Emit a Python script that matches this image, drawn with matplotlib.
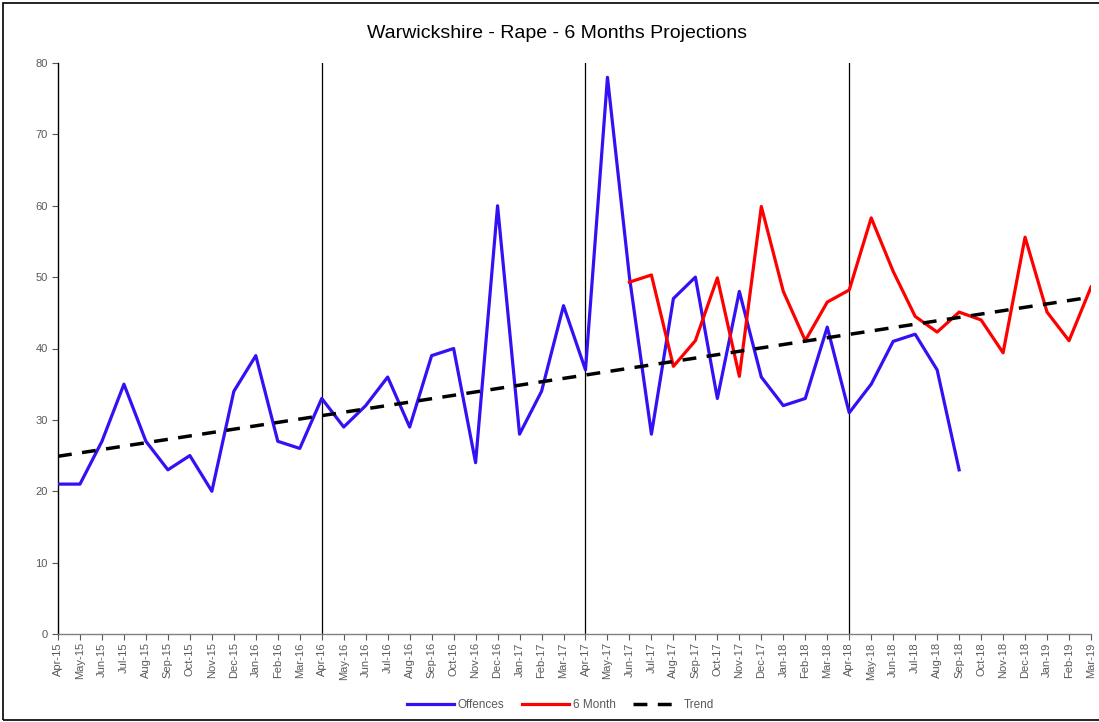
import matplotlib
matplotlib.use("Agg")
import matplotlib.pyplot as plt
from matplotlib.patches import Rectangle

plt.rcParams['font.family'] = ['Liberation Sans Narrow', 'Liberation Sans', 'DejaVu Sans']

months = ["Apr-15","May-15","Jun-15","Jul-15","Aug-15","Sep-15","Oct-15","Nov-15","Dec-15","Jan-16","Feb-16","Mar-16",
          "Apr-16","May-16","Jun-16","Jul-16","Aug-16","Sep-16","Oct-16","Nov-16","Dec-16","Jan-17","Feb-17","Mar-17",
          "Apr-17","May-17","Jun-17","Jul-17","Aug-17","Sep-17","Oct-17","Nov-17","Dec-17","Jan-18","Feb-18","Mar-18",
          "Apr-18","May-18","Jun-18","Jul-18","Aug-18","Sep-18","Oct-18","Nov-18","Dec-18","Jan-19","Feb-19","Mar-19"]

offences = [21, 21, 27, 35, 27, 23, 25, 20, 34, 39, 27, 26,
            33, 29, 32, 36, 29, 39, 40, 24, 60, 28, 34, 46,
            37, 78, 50, 28, 47, 50, 33, 48, 36, 32, 33, 43,
            31, 35, 41, 42, 37, 23]

six_month_start = "Jun-17"
six_month = [49.3, 50.3, 37.5, 41.1, 49.9, 36.1, 59.9, 48.0, 41.1, 46.5, 48.2,
             58.3, 50.8, 44.5, 42.3, 45.1, 44.0, 39.4, 55.6, 45.1, 41.1, 48.6]

trend_months = ["Apr-15", "Mar-19"]
trend_values = [24.9, 47.2]

year_markers = ["Apr-16", "Apr-17", "Apr-18"]

fig = plt.figure(figsize=(10.99, 7.22), dpi=100)
ax = fig.add_axes([58/1099, 88/722, (1091-58)/1099, (634-63)/722])

idx = {m: i for i, m in enumerate(months)}
x_off = list(range(len(offences)))
s0 = idx[six_month_start]
x_six = list(range(s0, s0 + len(six_month)))
x_tr = [idx[m] for m in trend_months]

for m in year_markers:
    ax.plot([idx[m], idx[m]], [0, 80], color='black', lw=0.9, zorder=1)

l1, = ax.plot(x_off, offences, color='#3311F5', lw=2.3, label='Offences', zorder=3)
l2, = ax.plot(x_six, six_month, color='#FF0000', lw=2.3, label='6 Month', zorder=3)
l3, = ax.plot(x_tr, trend_values, color='black', lw=2.5, ls=(0, (4, 3)), label='Trend', zorder=4)

ax.set_xlim(0, 47)
ax.set_ylim(0, 80)
ax.set_yticks(range(0, 81, 10))
ax.set_xticks(range(len(months)))
ax.set_xticklabels(months, rotation=90)
ax.tick_params(axis='both', colors='#595959', labelsize=8, length=4, width=0.8, direction='out')
ax.tick_params(axis='x', pad=2)
for s in ['top', 'right']:
    ax.spines[s].set_visible(False)
for s in ['left', 'bottom']:
    ax.spines[s].set_color('#808080')
    ax.spines[s].set_linewidth(1.0)
ax.spines['left'].set_color('black')

fig.text(0.507, 1 - 34/722, "Warwickshire - Rape - 6 Months Projections", ha='center', va='center',
         fontsize=14, color='black')

fig.legend(handles=[l1, l2, l3], loc='center', bbox_to_anchor=(0.51, 1 - 705/722), ncol=3,
           frameon=False, fontsize=8.5, handlelength=4, columnspacing=1.5, handletextpad=0.3,
           labelcolor='#595959')

fig.patches.append(Rectangle((3/1099, 2/722), 1.2, 717/722, transform=fig.transFigure,
                             fill=False, edgecolor='black', lw=1.2))

fig.savefig("out.png", dpi=100)
